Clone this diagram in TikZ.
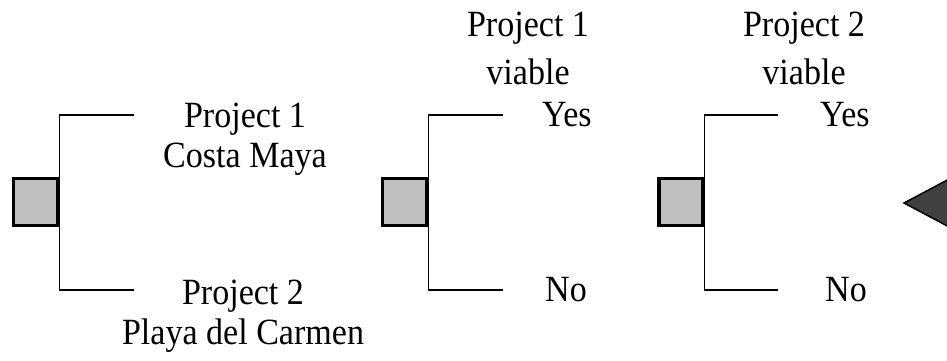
\documentclass[tikz,border=0pt]{standalone}
\usepackage{fontspec}
\setmainfont{Liberation Serif}[FakeStretch=0.92]
\usetikzlibrary{positioning}
\definecolor{boxgray}{HTML}{C0C0C0}
\definecolor{endgray}{HTML}{404040}
\tikzset{%
	decision/.style = {draw, rectangle, fill=boxgray, line width=3.5pt, minimum width=44pt, minimum height=47pt, inner sep=0pt}, % Decision box
	branch/.style   = {line width=1.1pt}, % Branch
	outcome/.style  = {inner sep=0pt, align=center, font=\fontsize{37}{40}\selectfont}, % Branch label
	heading/.style  = {outcome, font=\fontsize{37}{48}\selectfont}, % Column title
	terminal/.style = {draw, fill=endgray, line width=1.5pt}, % End point
}

\begin{document}
\begin{tikzpicture}[x=1pt, y=1pt]
	\useasboundingbox (0,0) rectangle (947,360);
	\node[decision] (d1) at (35.5,158) {};
	\node[decision] (d2) at (404.5,158) {};
	\node[decision] (d3) at (681,158) {};
	\coordinate (d1up) at (134,245);
	\coordinate (d1dn) at (134,70);
	\coordinate (d2up) at (503,245);
	\coordinate (d2dn) at (503,70);
	\coordinate (d3up) at (778,245);
	\coordinate (d3dn) at (778,70);
	\draw[branch] (d1up) -| (d1.east) |- (d1dn);
	\draw[branch] (d2up) -| (d2.east) |- (d2dn);
	\draw[branch] (d3up) -| (d3.east) |- (d3dn);
	
	\node[outcome, anchor=north] (p1) at (245,257) {Project 1\\Costa Maya};
	\node[outcome, anchor=north] (p2) at (243,80) {Project 2\\Playa del Carmen};
	\node[heading, anchor=north] (v1) at (528,348) {Project 1\\viable};
	\node[heading, anchor=north] (v2) at (804,348) {Project 2\\viable};
	\node[outcome, right=39pt of d2up] (yes1) {Yes};
	\node[outcome, right=42pt of d2dn] (no1) {No};
	\node[outcome, right=42pt of d3up] (yes2) {Yes};
	\node[outcome, right=47pt of d3dn] (no2) {No};
	
	\begin{scope}
	\clip (0,0) rectangle (947,360);
	\filldraw[terminal] (904,157) -- (1000,208) -- (1000,106) -- cycle;
	\end{scope}
\end{tikzpicture}
\end{document}
